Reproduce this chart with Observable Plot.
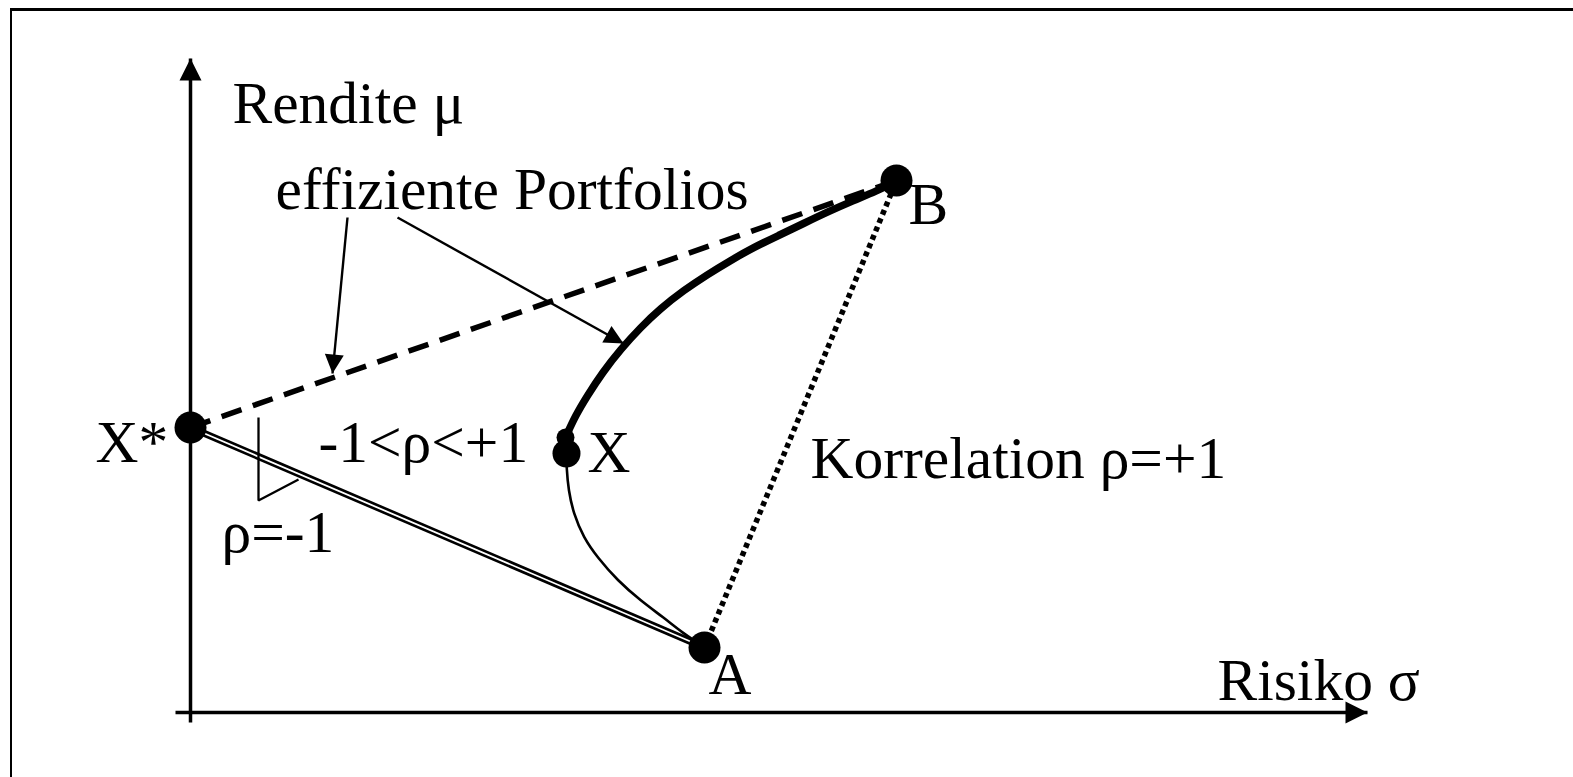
<!DOCTYPE html>
<html><head><meta charset="utf-8">
<script src="https://cdn.jsdelivr.net/npm/d3@7"></script>
<script src="https://cdn.jsdelivr.net/npm/@observablehq/plot@0.6"></script>
<style>
html,body{margin:0;padding:0;background:#fff;overflow:hidden}
#wrap{position:relative;width:1573px;height:777px}
#frame{position:absolute;left:10px;top:8px;width:1600px;height:800px;border-top:3px solid #000;border-left:2.5px solid #000;pointer-events:none}
</style></head><body><div id="wrap"><div id="frame"></div><div id="chart"></div></div>
<script>
// ---- data (σ = Risiko, μ = Rendite) ----
const pointNames = ["X*", "A", "B", "X"];
const pointSigma = [0, 5.14, 7.06, 3.76];
const pointMu    = [2.85, 0.65, 5.32, 2.59];
const xTopSigma = [3.75];          // upper end of the efficient branch at X
const xTopMu    = [2.75];

// inefficient branch X -> A (thin)
const lowerSigma = [3.76, 3.76, 3.78, 3.83, 3.93, 4.07, 4.27, 4.50, 4.73, 4.93, 5.07, 5.14];
const lowerMu    = [2.59, 2.45, 2.22, 1.99, 1.75, 1.55, 1.32, 1.12, 0.95, 0.79, 0.70, 0.65];
// efficient branch X -> B (thick)
const upperSigma = [3.75, 3.85, 3.97, 4.12, 4.30, 4.50, 4.70, 4.93, 5.17, 5.40, 5.63, 5.88, 6.13, 6.38, 6.63, 6.85, 7.06];
const upperMu    = [2.75, 2.97, 3.17, 3.40, 3.63, 3.85, 4.04, 4.22, 4.38, 4.52, 4.65, 4.77, 4.89, 5.01, 5.12, 5.21, 5.31];

// slope marker for ρ = -1
const slopeSigma = [0.68, 0.68, 1.08];
const slopeMu    = [2.95, 2.12, 2.33];

// annotation arrows from "effiziente Portfolios"
const arrowSigma1 = [1.57, 2.07];
const arrowMu1    = [4.95, 4.95];
const arrowSigma2 = [1.42, 4.33];
const arrowMu2    = [3.39, 3.69];

// axes
const axisSigma1 = [0, -0.15];
const axisMu1    = [-0.10, 0];
const axisSigma2 = [0, 11.77];
const axisMu2    = [6.54, 0];

// labels
const labelText  = ["Rendite μ", "effiziente Portfolios", "B", "X*", "-1<ρ<+1", "X", "Korrelation ρ=+1", "ρ=-1", "A", "Risiko σ"];
const labelSigma = [0.42, 0.85, 7.18, -0.95, 1.28, 3.97, 6.20, 0.31, 5.18, 10.27];
const labelMu    = [5.90, 5.04, 4.89, 2.51, 2.51, 2.41, 2.35, 1.61, 0.19, 0.13];

// ---- build tables ----
const zipPts = (s, m) => s.map((v, i) => ({s: v, m: m[i]}));
const pts = pointNames.map((n, i) => ({name: n, s: pointSigma[i], m: pointMu[i]}));
const P = Object.fromEntries(pts.map(p => [p.name, p]));
const lower = zipPts(lowerSigma, lowerMu);
const upper = zipPts(upperSigma, upperMu);
const slope = zipPts(slopeSigma, slopeMu);
const arrows = arrowSigma1.map((s, i) => ({s1: s, m1: arrowMu1[i], s2: arrowSigma2[i], m2: arrowMu2[i],
  rot: Math.atan2(arrowSigma2[i] - s, arrowMu2[i] - arrowMu1[i]) * 180 / Math.PI}));
const axes = axisSigma1.map((s, i) => ({s1: s, m1: axisMu1[i], s2: axisSigma2[i], m2: axisMu2[i],
  rot: Math.atan2(axisSigma2[i] - s, axisMu2[i] - axisMu1[i]) * 180 / Math.PI}));
const labels = labelText.map((t, i) => ({t, s: labelSigma[i], m: labelMu[i]}));

function head(L, w) {
  return {draw(ctx) { ctx.moveTo(0, 0); ctx.lineTo(-w, L); ctx.lineTo(w, L); ctx.closePath(); }};
}
const axisHead = head(22, 11);
const annoHead = head(19, 9.5);

const W = 1573, H = 777;
const butt = {strokeLinecap: "butt", strokeLinejoin: "round"};
const chart = Plot.plot({
  width: W, height: H, margin: 0,
  x: {domain: [-1.90, 13.83], range: [0, W], axis: null},
  y: {domain: [-0.65, 7.12], range: [H, 0], axis: null},
  style: {background: "transparent", fontFamily: "'Liberation Serif','Times New Roman',serif"},
  marks: [
    // axes
    Plot.link(axes, {x1: "s1", y1: "m1", x2: "s2", y2: "m2", stroke: "black", strokeWidth: 3.5, ...butt}),
    Plot.dot(axes, {x: "s2", y: "m2", rotate: "rot", symbol: axisHead, r: 10, fill: "black", stroke: "none"}),
    // ρ = -1 double line X* -> A
    Plot.line([P["X*"], P["A"]], {x: "s", y: "m", stroke: "black", strokeWidth: 7, ...butt}),
    Plot.line([P["X*"], P["A"]], {x: "s", y: "m", stroke: "white", strokeWidth: 1.8, ...butt}),
    // dashed X* -> B
    Plot.line([P["X*"], P["B"]], {x: "s", y: "m", stroke: "black", strokeWidth: 5.5, strokeDasharray: "21,12", ...butt}),
    // dotted A -> B
    Plot.line([P["A"], P["B"]], {x: "s", y: "m", stroke: "black", strokeWidth: 5.5, strokeDasharray: "5,4", ...butt}),
    // curves
    Plot.line(lower, {x: "s", y: "m", curve: "basis", stroke: "black", strokeWidth: 2.6}),
    Plot.line(upper, {x: "s", y: "m", curve: "basis", stroke: "black", strokeWidth: 7.5}),
    // slope triangle
    Plot.line(slope, {x: "s", y: "m", stroke: "black", strokeWidth: 2.3, strokeLinecap: "butt", strokeLinejoin: "miter"}),
    // annotation arrows
    Plot.link(arrows, {x1: "s1", y1: "m1", x2: "s2", y2: "m2", stroke: "black", strokeWidth: 2.4}),
    Plot.dot(arrows, {x: "s2", y: "m2", rotate: "rot", symbol: annoHead, r: 9, fill: "black", stroke: "none"}),
    // points
    Plot.dot(pts.filter(p => p.name !== "X"), {x: "s", y: "m", r: 16, fill: "black"}),
    Plot.dot(pts.filter(p => p.name === "X"), {x: "s", y: "m", r: 14, fill: "black"}),
    Plot.dot(zipPts(xTopSigma, xTopMu), {x: "s", y: "m", r: 9, fill: "black"}),
    // labels
    Plot.text(labels, {x: "s", y: "m", text: "t", textAnchor: "start", lineAnchor: "bottom", fontSize: 59.5, fill: "black"})
  ]
});
document.getElementById("chart").appendChild(chart);
</script>
</body></html>
